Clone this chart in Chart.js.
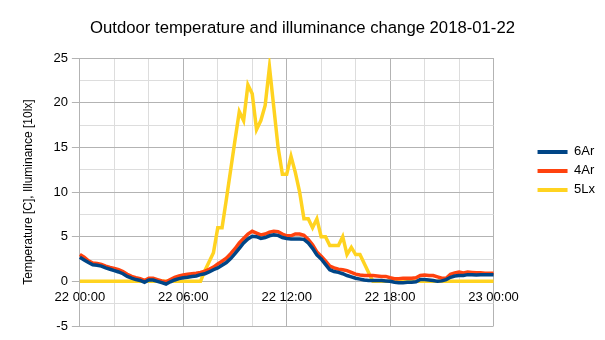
<!DOCTYPE html>
<html>
<head>
<meta charset="utf-8">
<script src="https://cdn.jsdelivr.net/npm/chart.js@4/dist/chart.umd.min.js"></script>
<style>
html,body{margin:0;padding:0;background:#fff;}
#wrap{width:605px;height:340px;position:relative;}
</style>
</head>
<body>
<div id="wrap"><canvas id="c"></canvas></div>
<script>
const chartTitle = "Outdoor temperature and illuminance change 2018-01-22";
const yAxisTitle = "Temperature [C], Illuminance [10lx]";
const seriesNames = ["6Ar", "4Ar", "5Lx"];
const seriesColors = ["#004586", "#ff420e", "#ffd320"];

// time categories, 15-minute steps from 22 00:00 to 23 00:00
const timeLabels = [];
for (let i = 0; i <= 96; i++) {
  const day = i === 96 ? 23 : 22;
  const h = Math.floor(i / 4) % 24;
  const m = (i % 4) * 15;
  timeLabels.push(day + " " + String(h).padStart(2, "0") + ":" + String(m).padStart(2, "0"));
}

const temp6Ar = [
  2.7,2.4,2.1,1.85,1.8,1.7,1.5,1.35,1.2,1.05,
  0.85,0.55,0.35,0.2,0.1,-0.1,0.15,0.15,0,-0.15,
  -0.3,-0.05,0.15,0.3,0.4,0.45,0.55,0.6,0.75,0.85,
  1.05,1.3,1.5,1.8,2.1,2.55,3.1,3.7,4.3,4.75,
  5.05,5.0,4.8,4.9,5.1,5.2,5.15,4.9,4.8,4.75,
  4.75,4.75,4.7,4.3,3.7,2.95,2.5,1.9,1.3,1.1,
  1.0,0.85,0.65,0.5,0.35,0.25,0.15,0.1,0.1,0.1,
  0.1,0.05,0,-0.1,-0.15,-0.15,-0.1,-0.1,-0.05,0.2,
  0.2,0.15,0.1,0,0.05,0.2,0.45,0.6,0.65,0.65,
  0.75,0.75,0.7,0.75,0.75,0.75,0.75
];
const temp4Ar = [
  3.0,2.7,2.3,2.05,2.0,1.9,1.7,1.55,1.45,1.3,
  1.1,0.8,0.55,0.4,0.3,0.1,0.35,0.35,0.2,0.05,
  -0.05,0.2,0.45,0.6,0.7,0.8,0.85,0.9,1.0,1.15,
  1.35,1.6,1.95,2.25,2.6,3.1,3.65,4.3,4.8,5.3,
  5.6,5.4,5.2,5.3,5.5,5.6,5.55,5.3,5.1,5.1,
  5.3,5.3,5.15,4.7,4.1,3.3,2.8,2.3,1.7,1.5,
  1.35,1.3,1.2,1.0,0.8,0.7,0.65,0.65,0.65,0.6,
  0.55,0.55,0.4,0.3,0.3,0.35,0.35,0.35,0.4,0.65,
  0.7,0.65,0.65,0.5,0.35,0.35,0.8,0.95,1.05,0.95,
  1.05,1.0,0.95,0.95,0.9,0.9,0.9
];
const lux5Lx = [
  0,0,0,0,0,0,0,0,0,0,
  0,0,0,0,0,0,0,0,0,0,
  0,0,0,0,0,0,0,0,
  0,1.2,2.2,3.2,6,6,9.2,12.5,15.8,19,
  18,22,21,17,18,19.7,24,19.5,15,12,
  12,14,12.2,10,7,7,6,7,5,5,
  4,4,4,5,3,3.8,3,3,2,1,
  0,
  0,0,0,0,0,0,0,0,0,0,
  0,0,0,0,0,0,0,0,0,0,
  0,0,0,0,0,0,0,0
];

const yMin = -5, yMax = 25, yStep = 2.5, yLabelEvery = 5;
const xGridEvery = 8, xLabelEvery = 24;
const majorGrid = "#b3b3b3", minorGrid = "#dddddd";

Chart.defaults.font.family = '"Liberation Sans", Arial, sans-serif';
Chart.defaults.color = "#000";

const seriesData = [temp6Ar, temp4Ar, lux5Lx];

new Chart(document.getElementById("c"), {
  type: "line",
  data: {
    labels: timeLabels,
    datasets: seriesData.map((d, k) => ({
      label: seriesNames[k],
      data: d,
      borderColor: seriesColors[k],
      backgroundColor: seriesColors[k],
      borderWidth: 3.5,
      pointRadius: 0,
      tension: 0,
      fill: false
    }))
  },
  options: {
    responsive: true,
    maintainAspectRatio: false,
    animation: false,
    layout: { padding: { left: 0, right: 0, top: 0, bottom: 14 } },
    plugins: {
      title: {
        display: true,
        text: chartTitle,
        font: { size: 16.7, weight: "normal" },
        color: "#000",
        padding: { top: 18, bottom: 20 }
      },
      legend: {
        position: "right",
        align: "start",
        title: { display: true, text: " ", font: { size: 12 }, padding: { top: 0, bottom: 125 } },
        labels: {
          boxWidth: 30,
          boxHeight: 4,
          padding: 6,
          font: { size: 13 },
          color: "#000",
          generateLabels(chart) {
            const items = Chart.defaults.plugins.legend.labels.generateLabels(chart);
            items.forEach(it => { it.lineWidth = 0; it.strokeStyle = "rgba(0,0,0,0)"; });
            return items;
          }
        }
      },
      tooltip: { enabled: false }
    },
    scales: {
      x: {
        type: "category",
        position: { y: 0 },
        offset: false,
        grid: {
          drawTicks: false,
          color: ctx => ctx.index % xGridEvery === 0 ? (ctx.index % xLabelEvery === 0 ? majorGrid : minorGrid) : "rgba(0,0,0,0)",
          lineWidth: 1
        },
        border: { color: majorGrid },
        ticks: {
          autoSkip: false,
          maxRotation: 0,
          padding: 8,
          font: { size: 13 },
          color: "#000",
          callback: function (v, i) { return i % xLabelEvery === 0 ? timeLabels[i] : ""; }
        }
      },
      y: {
        min: yMin,
        max: yMax,
        position: "left",
        grid: {
          drawTicks: true,
          tickLength: 8,
          color: ctx => (ctx.tick && Math.abs(ctx.tick.value % yLabelEvery) < 1e-9) ? majorGrid : minorGrid,
          tickColor: ctx => (ctx.tick && Math.abs(ctx.tick.value % yLabelEvery) < 1e-9) ? majorGrid : "rgba(0,0,0,0)"
        },
        border: { color: majorGrid },
        ticks: {
          stepSize: yStep,
          padding: 4,
          font: { size: 13 },
          color: "#000",
          callback: v => Math.abs(v % yLabelEvery) < 1e-9 ? String(v) : ""
        },
        title: {
          display: true,
          text: yAxisTitle,
          font: { size: 12 },
          color: "#000",
          padding: { top: 21, bottom: 14 }
        }
      },
      gap: {
        type: "linear",
        position: "right",
        display: true,
        grid: { display: false, drawTicks: false },
        border: { display: false },
        ticks: { display: false },
        title: { display: true, text: "", font: { size: 10 }, padding: { top: 26, bottom: 0 } }
      }
    }
  }
});
</script>
</body>
</html>
